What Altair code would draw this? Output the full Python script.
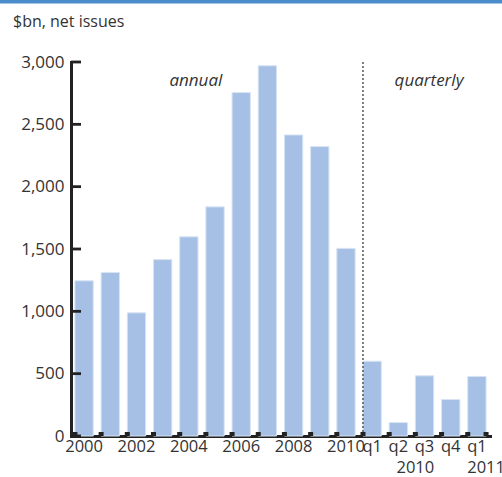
import json
import altair as alt
import pandas as pd

# ---- data ----
categories = ["2000", "2001", "2002", "2003", "2004", "2005", "2006", "2007",
              "2008", "2009", "2010", "q1 2010", "q2 2010", "q3 2010", "q4 2010", "q1 2011"]
tick_labels = ["2000", "", "2002", "", "2004", "", "2006", "", "2008", "", "2010",
               "q1", "q2", "q3", "q4", "q1"]
values = [1245, 1312, 988, 1415, 1598, 1838, 2755, 2970, 2415, 2322, 1505,
          600, 108, 483, 293, 478]
y_ticks = [0, 500, 1000, 1500, 2000, 2500, 3000]
title_text = "$bn, net issues"

FONT = "Open Sans"
TXT = "#333333"
AX = "#222222"
W, H = 419, 374
FS = 16.5

df = pd.DataFrame({"cat": categories, "value": values})
xscale = alt.Scale(domain=categories, paddingInner=0.3, paddingOuter=0.15)
yscale = alt.Scale(domain=[0, 3000])
label_expr = f"{json.dumps(tick_labels)}[indexof({json.dumps(categories)}, datum.value)]"

xaxis = alt.Axis(
    title=None, labelExpr=label_expr, labelAngle=0, labelOverlap=False,
    ticks=False, grid=False, domainWidth=3, domainColor=AX, domainCap="square",
    labelFontSize=FS, labelColor=TXT, labelFont=FONT, labelPadding=2)
yaxis = alt.Axis(
    title=None, values=y_ticks, format=",.0f", ticks=False, grid=False,
    domainWidth=3, domainColor=AX, domainCap="square", labelPadding=7,
    labelFontSize=17, labelColor=TXT, labelFont=FONT)

bars = alt.Chart(df).mark_bar(color="#a5c0e4", stroke="#d8e4f4", strokeWidth=1).encode(
    x=alt.X("cat:N", scale=xscale, axis=xaxis),
    y=alt.Y("value:Q", scale=yscale, axis=yaxis),
)

ytick_layer = alt.Chart(pd.DataFrame({"value": y_ticks})).mark_rule(color=AX, strokeWidth=2.8).encode(
    y=alt.Y("value:Q", scale=yscale, axis=yaxis),
    x=alt.value(0), x2=alt.value(10),
)

xtick_layer = alt.Chart(pd.DataFrame({"cat": categories})).mark_rule(color=AX, strokeWidth=5).encode(
    x=alt.X("cat:N", scale=xscale, bandPosition=0, axis=xaxis),
    y=alt.value(H - 4), y2=alt.value(H),
)
xtick_end = alt.Chart(pd.DataFrame({"cat": [categories[-1]]})).mark_rule(color=AX, strokeWidth=5).encode(
    x=alt.X("cat:N", scale=xscale, bandPosition=1, axis=xaxis),
    y=alt.value(H - 4), y2=alt.value(H),
)

divider = alt.Chart(pd.DataFrame({"cat": ["q1 2010"]})).mark_rule(
    color="#555555", strokeWidth=1.5, strokeDash=[2, 2]).encode(
    x=alt.X("cat:N", scale=xscale, bandPosition=0, axis=xaxis),
    y=alt.value(0), y2=alt.value(H),
)

def ann(text, cat, dx, italic=True, band=0.5, y=19, size=17):
    return alt.Chart(pd.DataFrame({"cat": [cat], "t": [text]})).mark_text(
        font=FONT, fontSize=size, fontStyle="italic" if italic else "normal",
        color=TXT, align="center", baseline="middle", dx=dx).encode(
        x=alt.X("cat:N", scale=xscale, bandPosition=band, axis=xaxis),
        y=alt.value(y), text="t:N")

annual = ann("annual", "2004", 7)
quarterly = ann("quarterly", "q3 2010", 4.5)
yr2010 = ann("2010", "q3 2010", 0, italic=False, band=0, y=H + 32, size=FS)
yr2011 = ann("2011", "q1 2011", 0, italic=False, band=1, y=H + 32, size=FS)

title = alt.Chart(pd.DataFrame({"t": [title_text]})).mark_text(
    font=FONT, fontSize=16, color=TXT, align="left", baseline="middle").encode(
    x=alt.value(-58), y=alt.value(-40), text="t:N")

band = alt.Chart(pd.DataFrame({"a": [0]})).mark_rect(color="#4b8dcc").encode(
    x=alt.value(-71), x2=alt.value(431), y=alt.value(-62), y2=alt.value(-58.5))

chart = alt.layer(
    band, title, bars, divider, ytick_layer, xtick_layer, xtick_end,
    annual, quarterly, yr2010, yr2011
).properties(
    width=W, height=H,
    autosize=alt.AutoSizeParams(type="none"),
    padding={"left": 71, "top": 62, "right": 12, "bottom": 41},
    background="white",
).configure_view(stroke=None)

chart.save("out.html", embed_options={"renderer": "svg", "actions": False})
